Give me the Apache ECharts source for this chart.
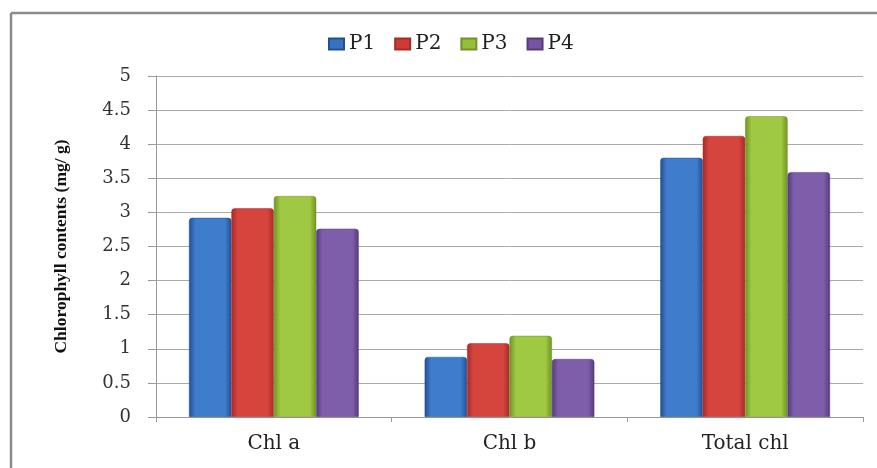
<!DOCTYPE html>
<html><head><meta charset="utf-8">
<script src="https://cdn.jsdelivr.net/npm/echarts@6/dist/echarts.min.js"></script>
<style>html,body{margin:0;padding:0;background:#fff}#c{width:877px;height:468px}</style>
</head><body><div id="c"></div>
<script>
const categories = ['Chl a', 'Chl b', 'Total chl'];
const seriesNames = ['P1', 'P2', 'P3', 'P4'];
const P1 = [2.92, 0.88, 3.80];
const P2 = [3.06, 1.08, 4.12];
const P3 = [3.24, 1.19, 4.41];
const P4 = [2.76, 0.85, 3.59];
const yTicks = [0, 0.5, 1, 1.5, 2, 2.5, 3, 3.5, 4, 4.5, 5];
const values = [P1, P2, P3, P4];
const colors = [
  ['#214f93', '#3f7ccc', '#214f93'],
  ['#a82a26', '#d6443e', '#a82a26'],
  ['#6f9324', '#9fc843', '#6f9324'],
  ['#553a7c', '#7e5eaa', '#553a7c']
];
const legendColors = ['#3672c0', '#cc3b36', '#95bf3a', '#7654a3'];
function grad(c) {
  return new echarts.graphic.LinearGradient(0, 0, 1, 0, [
    {offset: 0, color: c[0]}, {offset: 0.15, color: c[1]},
    {offset: 0.85, color: c[1]}, {offset: 1, color: c[2]}
  ]);
}
const serif = 'DejaVu Serif';
const chart = echarts.init(document.getElementById('c'));
chart.setOption({
  animation: false,
  graphic: [
    {type: 'line', shape: {x1: 11, y1: 13, x2: 877, y2: 13}, style: {stroke: '#8a8a8a', lineWidth: 2.5}},
    {type: 'line', shape: {x1: 11, y1: 13, x2: 11, y2: 468}, style: {stroke: '#8a8a8a', lineWidth: 2.5}}
  ],
  legend: {
    top: 29, left: 323, itemWidth: 15, itemHeight: 11, itemGap: 19, icon: 'rect',
    textStyle: {fontFamily: serif, fontSize: 20, color: '#222'},
    data: seriesNames.map((n, i) => ({name: n, itemStyle: {color: legendColors[i]}}))
  },
  grid: {left: 156, right: 14, top: 76, bottom: 51},
  xAxis: {
    type: 'category', data: categories,
    axisLine: {lineStyle: {color: '#999'}},
    axisTick: {show: true, length: 5, lineStyle: {color: '#999'}},
    axisLabel: {fontFamily: serif, fontSize: 20, color: '#222', margin: 17}
  },
  yAxis: {
    type: 'value', min: yTicks[0], max: yTicks[yTicks.length - 1], interval: 0.5,
    name: 'Chlorophyll contents (mg/ g)', nameLocation: 'middle', nameGap: 86,
    nameTextStyle: {fontFamily: 'Liberation Serif', fontWeight: 'bold', fontSize: 17.5, color: '#111'},
    axisLine: {show: true, lineStyle: {color: '#999'}},
    axisTick: {show: true, length: 8, lineStyle: {color: '#999'}},
    axisLabel: {fontFamily: serif, fontSize: 18, color: '#333', margin: 25},
    splitLine: {lineStyle: {color: '#aaa'}}
  },
  series: values.map((v, i) => ({
    name: seriesNames[i], type: 'bar', data: v,
    barGap: '0%', barCategoryGap: '28%',
    itemStyle: {color: grad(colors[i]), borderRadius: [3, 3, 0, 0], borderColor: colors[i][0], borderWidth: 0.5}
  }))
});
</script></body></html>
